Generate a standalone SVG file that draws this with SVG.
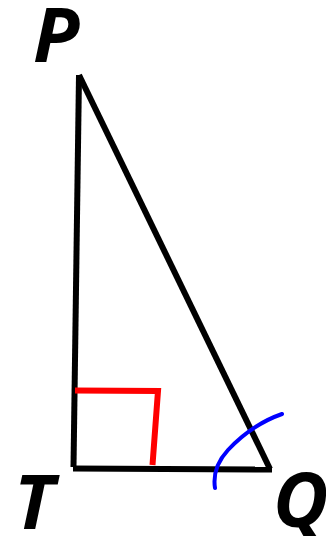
<svg xmlns="http://www.w3.org/2000/svg" width="326" height="536" viewBox="0 0 326 536">
<style>
.lbl{font-family:"Open Sans","Liberation Sans",sans-serif;font-weight:bold;font-style:italic;font-size:76px;fill:#000}
.edge{stroke:#000;stroke-width:6;fill:none;stroke-linejoin:miter}
</style>
<rect width="326" height="536" fill="#fff"/>
<g id="connectors">
<path class="edge" d="M79,75 L73.5,467"/>
<path class="edge" d="M73,468.5 L272,469.5"/>
<path class="edge" d="M79,75 L270,469"/>
</g>
<g id="right-angle">
<path d="M75,390.5 L158,391 L152.5,465" stroke="#ff0000" stroke-width="6" fill="none"/>
</g>
<g id="angle-arc">
<path d="M215,488 C213,475 217,462 228,450 C243,434 262,421 282,414" stroke="#0000ff" stroke-width="4" fill="none" stroke-linecap="round"/>
</g>
<g id="P"><text class="lbl" x="33" y="62">P</text></g>
<g id="T"><text class="lbl" x="14" y="529">T</text></g>
<g id="Q"><text class="lbl" x="273" y="527">Q</text></g>
</svg>
